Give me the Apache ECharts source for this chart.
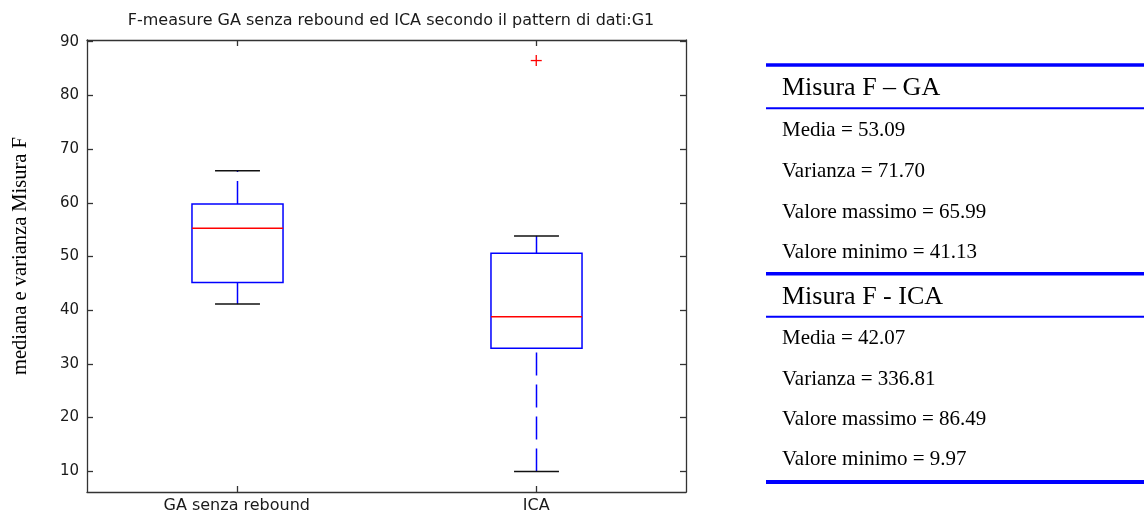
<!DOCTYPE html>
<html>
<head>
<meta charset="utf-8">
<title>F-measure GA senza rebound ed ICA</title>
<script src="https://cdn.jsdelivr.net/npm/echarts@6/dist/echarts.min.js"></script>
<style>
    html, body { margin: 0; padding: 0; background: #fff; }
    #chart { width: 1144px; height: 515px; }
</style>
</head>
<body>
<div id="chart"></div>
<script>
// categorie e valori
var categories = ['GA senza rebound', 'ICA'];
// [min, Q1, mediana, Q3, max]
var gaBox = [41.13, 45.17, 55.26, 59.80, 65.99];
var icaBox = [9.97, 32.92, 38.77, 50.59, 53.84];
var icaOutliers = [86.49];
var yTicks = [10, 20, 30, 40, 50, 60, 70, 80, 90];

// tabella a destra
var statLabels = ['Media', 'Varianza', 'Valore massimo', 'Valore minimo'];
var gaStats = ['53.09', '71.70', '65.99', '41.13'];
var icaStats = ['42.07', '336.81', '86.49', '9.97'];
var tableHeaders = ['Misura F \u2013 GA', 'Misura F - ICA'];

var chart = echarts.init(document.getElementById('chart'));

var boxData = [[0].concat(gaBox), [1].concat(icaBox)];
var outlierData = icaOutliers.map(function(v) { return [1, v]; });

function renderBox(params, api) {
    var x = api.value(0);
    var lo = api.coord([x, api.value(1)]);
    var q1 = api.coord([x, api.value(2)]);
    var med = api.coord([x, api.value(3)]);
    var q3 = api.coord([x, api.value(4)]);
    var hi = api.coord([x, api.value(5)]);
    var band = api.size([1, 0])[0];
    var bw = band * 0.152;
    var cw = band * 0.075;
    var cx = Math.round(lo[0]) + 0.5;
    var dash = { stroke: '#0000ff', lineWidth: 1.5, lineDash: [23, 9] };
    var cap = { stroke: '#111', lineWidth: 1.5 };
    return {
        type: 'group',
        children: [
            // baffi: tratteggiati dal valore più basso verso l'alto
            { type: 'line', shape: { x1: cx, y1: lo[1], x2: cx, y2: q1[1] }, style: dash },
            { type: 'line', shape: { x1: cx, y1: q3[1], x2: cx, y2: hi[1] }, style: dash },
            { type: 'line', shape: { x1: cx - cw, y1: lo[1], x2: cx + cw, y2: lo[1] }, style: cap },
            { type: 'line', shape: { x1: cx - cw, y1: hi[1], x2: cx + cw, y2: hi[1] }, style: cap },
            {
                type: 'rect',
                shape: { x: cx - bw, y: q3[1], width: bw * 2, height: q1[1] - q3[1] },
                style: { stroke: '#0000ff', fill: 'none', lineWidth: 1.5 }
            },
            { type: 'line', shape: { x1: cx - bw, y1: med[1], x2: cx + bw, y2: med[1] }, style: { stroke: '#ff0000', lineWidth: 1.5 } }
        ]
    };
}

function renderOutlier(params, api) {
    var p = api.coord([api.value(0), api.value(1)]);
    var s = 5.5;
    return {
        type: 'group',
        children: [
            { type: 'line', shape: { x1: p[0] - s, y1: p[1], x2: p[0] + s, y2: p[1] }, style: { stroke: '#ff0000', lineWidth: 1.3 } },
            { type: 'line', shape: { x1: p[0], y1: p[1] - s, x2: p[0], y2: p[1] + s }, style: { stroke: '#ff0000', lineWidth: 1.3 } }
        ]
    };
}

// tabella come elementi grafici
var serif = '"Liberation Serif", "Times New Roman", serif';
var graphics = [];
function hline(y, w) {
    graphics.push({
        type: 'line',
        shape: { x1: 766, y1: y, x2: 1144, y2: y },
        style: { stroke: '#0000ff', lineWidth: w }
    });
}
function txt(x, y, s, size) {
    graphics.push({
        type: 'text',
        x: x,
        y: y,
        style: {
            text: s,
            fontFamily: serif,
            fontSize: size,
            fill: '#000',
            textAlign: 'left',
            textVerticalAlign: 'middle',
            align: 'left',
            verticalAlign: 'middle'
        }
    });
}
var blocks = [
    { top: 65, underline: 108.3, head: 88, rows: [130, 171, 212, 252], stats: gaStats, title: tableHeaders[0] },
    { top: 273.7, underline: 316.7, head: 297, rows: [338, 379, 419, 459.5], stats: icaStats, title: tableHeaders[1] }
];
blocks.forEach(function(b) {
    hline(b.top, 3.5);
    hline(b.underline, 2);
    txt(782, b.head, b.title, 26);
    b.rows.forEach(function(y, i) {
        txt(782, y, statLabels[i] + ' = ' + b.stats[i], 21);
    });
});
hline(482, 4);

// etichetta asse y
graphics.push({
    type: 'text',
    x: 21,
    y: 256,
    rotation: Math.PI / 2,
    style: {
        text: 'mediana e varianza Misura F',
        fontFamily: serif,
        fontSize: 20.5,
        fill: '#000',
        textAlign: 'center',
        textVerticalAlign: 'middle',
        align: 'center',
        verticalAlign: 'middle'
    }
});

var sans = '"DejaVu Sans", sans-serif';
var axisColor = '#333';
var tickStyle = { show: true, inside: true, alignWithLabel: true, length: 6, lineStyle: { color: axisColor, width: 1.3 } };

var options = {
    backgroundColor: '#fff',
    animation: false,
    title: {
        text: 'F-measure GA senza rebound ed ICA secondo il pattern di dati:G1',
        left: 386,
        top: 8,
        textAlign: 'center',
        textStyle: { fontFamily: sans, fontSize: 16, fontWeight: 'normal', color: '#1a1a1a' }
    },
    grid: { left: 87, right: 458, top: 40, bottom: 23, containLabel: false },
    xAxis: [
        {
            type: 'category',
            data: categories,
            boundaryGap: true,
            axisLine: { onZero: false, lineStyle: { color: axisColor, width: 1.3 } },
            axisTick: tickStyle,
            axisLabel: { fontFamily: sans, fontSize: 16, color: '#1a1a1a', margin: 6 },
            splitLine: { show: false }
        },
        {
            type: 'category',
            data: categories,
            position: 'top',
            boundaryGap: true,
            axisLine: { onZero: false, lineStyle: { color: axisColor, width: 1.3 } },
            axisTick: tickStyle,
            axisLabel: { show: false },
            splitLine: { show: false }
        }
    ],
    yAxis: [
        {
            type: 'value',
            min: 6.14,
            max: 90.32,
            axisLine: { show: true, lineStyle: { color: axisColor, width: 1.3 } },
            axisTick: { show: true, inside: true, length: 6, customValues: yTicks, lineStyle: { color: axisColor, width: 1.3 } },
            axisLabel: { customValues: yTicks, fontFamily: sans, fontSize: 15, color: '#1a1a1a', margin: 8 },
            splitLine: { show: false }
        },
        {
            type: 'value',
            position: 'right',
            min: 6.14,
            max: 90.32,
            axisLine: { show: true, lineStyle: { color: axisColor, width: 1.3 } },
            axisTick: { show: true, inside: true, length: 6, customValues: yTicks, lineStyle: { color: axisColor, width: 1.3 } },
            axisLabel: { show: false },
            splitLine: { show: false }
        }
    ],
    graphic: graphics,
    series: [
        {
            type: 'custom',
            name: 'box',
            xAxisIndex: 0,
            yAxisIndex: 0,
            renderItem: renderBox,
            encode: { x: 0, y: [1, 2, 3, 4, 5] },
            data: boxData,
            silent: true
        },
        {
            type: 'custom',
            name: 'outlier',
            xAxisIndex: 0,
            yAxisIndex: 0,
            renderItem: renderOutlier,
            encode: { x: 0, y: 1 },
            data: outlierData,
            silent: true
        }
    ]
};
chart.setOption(options);
</script>
</body>
</html>
